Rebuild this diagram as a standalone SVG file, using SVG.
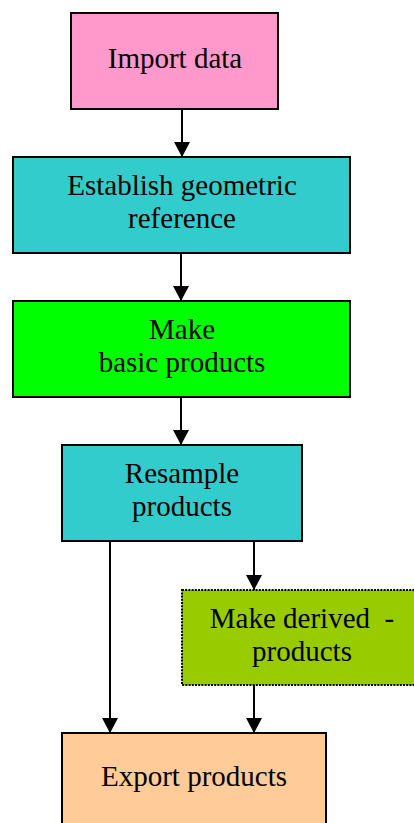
<svg xmlns="http://www.w3.org/2000/svg" width="414" height="823" viewBox="0 0 414 823">
  <style>
    .box { stroke: #000; stroke-width: 2; }
    .dotted { stroke: #000; stroke-width: 2; stroke-dasharray: 2 1.2; }
    .lbl { font-size: 29px; fill: #000; text-anchor: middle; }
    .conn { stroke: #000; stroke-width: 2; fill: none; marker-end: url(#arrow); }
  </style>
  <defs>
    <marker id="arrow" markerUnits="userSpaceOnUse" markerWidth="16" markerHeight="16" refX="15" refY="8" orient="auto">
      <path d="M0,0 L15,8 L0,16 Z" fill="#000"/>
    </marker>
  </defs>

  <rect width="414" height="823" fill="#fff"/>

  <g id="connectors">
    <line class="conn" x1="182" y1="109" x2="182" y2="157"/>
    <line class="conn" x1="181" y1="253" x2="181" y2="301"/>
    <line class="conn" x1="181" y1="397" x2="181" y2="445"/>
    <line class="conn" x1="254" y1="541" x2="254" y2="590"/>
    <line class="conn" x1="110" y1="541" x2="110" y2="733"/>
    <line class="conn" x1="254" y1="685" x2="254" y2="733"/>
  </g>

  <g font-family="Liberation Serif, Times New Roman, serif">
    <g id="import-data">
      <rect class="box" x="71" y="13" width="207" height="96" fill="#FF99CC"/>
      <text class="lbl" x="175" y="68">Import data</text>
    </g>

    <g id="geometric-reference">
      <rect class="box" x="13" y="157" width="337" height="96" fill="#33CCCC"/>
      <text class="lbl" x="182" y="195">Establish geometric</text>
      <text class="lbl" x="182" y="228">reference</text>
    </g>

    <g id="basic-products">
      <rect class="box" x="13" y="301" width="337" height="96" fill="#00FF00"/>
      <text class="lbl" x="182" y="339">Make</text>
      <text class="lbl" x="182" y="372">basic products</text>
    </g>

    <g id="resample-products">
      <rect class="box" x="62" y="445" width="240" height="96" fill="#33CCCC"/>
      <text class="lbl" x="182" y="483">Resample</text>
      <text class="lbl" x="182" y="516">products</text>
    </g>

    <g id="derived-products">
      <rect class="dotted" x="182" y="590" width="240" height="95" fill="#99CC00"/>
      <text class="lbl" x="302" y="628" xml:space="preserve">Make derived  -</text>
      <text class="lbl" x="302" y="661">products</text>
    </g>

    <g id="export-products">
      <rect class="box" x="62" y="733" width="264" height="100" fill="#FFCC99"/>
      <text class="lbl" x="194" y="786">Export products</text>
    </g>
  </g>
</svg>
